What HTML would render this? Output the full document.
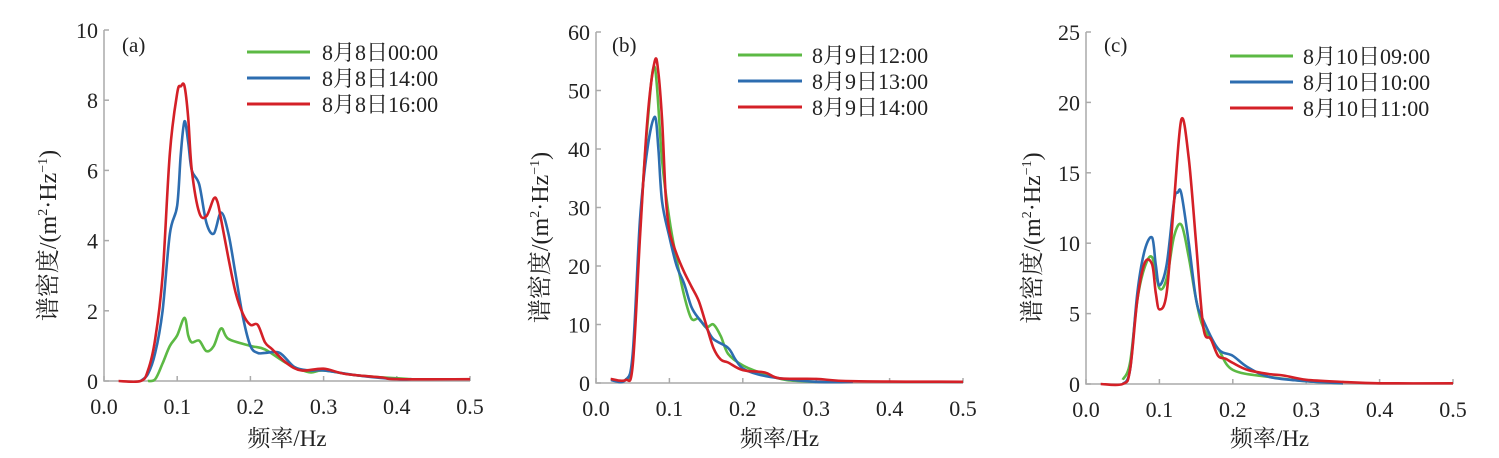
<!DOCTYPE html>
<html><head><meta charset="utf-8"><style>
body{margin:0;background:#fff;width:1499px;height:458px;overflow:hidden}
svg{display:block}
text{font-family:"Liberation Serif","Noto Serif CJK SC",serif;fill:#222}
</style></head><body>
<svg id="s" width="1499" height="458" xmlns="http://www.w3.org/2000/svg"></svg>
<script>
const S=document.getElementById('s');let h='';
const G='#5cb944',B='#2d6db0',R='#d42027';
const panels=[
{x0:104,x1:470,y0:381,yT:30,max:10,step:2,lab:'(a)',lx:122,leg:[247,310,322,52],
 names:['8月8日00:00','8月8日14:00','8月8日16:00'],yl:48,
 d:[[[0.06,0],[0.07,0.05],[0.08,0.5],[0.09,1],[0.1,1.3],[0.11,1.8],[0.115,1.3],[0.12,1.1],[0.13,1.15],[0.14,0.85],[0.15,1],[0.16,1.5],[0.17,1.2],[0.2,1],[0.22,0.9],[0.25,0.5],[0.28,0.25],[0.3,0.3],[0.35,0.15],[0.42,0.05]],
 [[0.05,0],[0.06,0.2],[0.07,0.8],[0.08,2],[0.09,4.2],[0.1,5],[0.105,6.5],[0.11,7.4],[0.115,6.8],[0.12,6],[0.13,5.6],[0.14,4.5],[0.15,4.2],[0.16,4.8],[0.17,4.2],[0.18,3],[0.19,1.8],[0.2,1],[0.21,0.8],[0.22,0.8],[0.24,0.8],[0.26,0.4],[0.28,0.3],[0.3,0.3],[0.35,0.15],[0.4,0.05],[0.42,0.05]],
 [[0.02,0],[0.05,0],[0.06,0.3],[0.07,1.2],[0.08,3],[0.09,6.5],[0.1,8.2],[0.105,8.4],[0.11,8.4],[0.115,7.5],[0.12,6],[0.13,4.8],[0.14,4.7],[0.15,5.2],[0.155,5.1],[0.16,4.6],[0.17,3.5],[0.18,2.5],[0.19,1.9],[0.2,1.6],[0.21,1.6],[0.22,1.1],[0.23,0.9],[0.25,0.5],[0.27,0.3],[0.3,0.35],[0.33,0.2],[0.38,0.1],[0.4,0.05],[0.5,0.05]]]},
{x0:596,x1:963,y0:383,yT:32,max:60,step:10,lab:'(b)',lx:612,leg:[738,802,812,55],
 names:['8月9日12:00','8月9日13:00','8月9日14:00'],yl:540,
 d:[[[0.04,0.5],[0.05,4],[0.06,26],[0.07,44],[0.08,54],[0.09,38],[0.1,28],[0.11,21],[0.12,15],[0.13,11],[0.14,11],[0.15,9.5],[0.16,10],[0.17,8],[0.18,5],[0.2,3],[0.23,1.5],[0.26,0.5],[0.3,0.2]],
 [[0.02,0.5],[0.04,0.5],[0.05,5],[0.06,28],[0.07,40],[0.08,45.5],[0.085,40],[0.09,31],[0.1,25],[0.11,20],[0.12,17],[0.13,13],[0.14,11],[0.15,9.5],[0.16,7.5],[0.18,6],[0.19,4],[0.2,2.5],[0.22,1.5],[0.25,0.8],[0.3,0.2],[0.35,0.2]],
 [[0.02,0.7],[0.04,0.5],[0.05,3],[0.06,25],[0.07,45],[0.08,55],[0.085,53],[0.09,45],[0.095,32],[0.1,26],[0.11,22],[0.12,19],[0.13,16.5],[0.14,14],[0.15,10],[0.16,6],[0.17,4],[0.18,3.5],[0.2,2.2],[0.23,1.8],[0.25,0.8],[0.3,0.7],[0.35,0.3],[0.5,0.2]]]},
{x0:1086,x1:1453,y0:384,yT:32,max:25,step:5,lab:'(c)',lx:1104,leg:[1230,1293,1303,56],
 names:['8月10日09:00','8月10日10:00','8月10日11:00'],yl:1032,
 d:[[[0.05,0.3],[0.06,1.5],[0.07,6],[0.08,8.3],[0.09,9],[0.1,6.8],[0.11,7.5],[0.12,10.5],[0.13,11.3],[0.14,9],[0.15,6],[0.16,4],[0.18,2.5],[0.2,1],[0.25,0.5],[0.3,0.2],[0.35,0.05]],
 [[0.05,0],[0.06,1],[0.07,6.5],[0.08,9.5],[0.09,10.4],[0.095,8.5],[0.1,7],[0.11,8.5],[0.12,13],[0.125,13.6],[0.13,13.5],[0.14,10],[0.15,6],[0.16,4.5],[0.18,2.5],[0.2,2],[0.22,1.2],[0.25,0.5],[0.3,0.2],[0.35,0.05]],
 [[0.02,0],[0.05,0],[0.06,1],[0.07,6],[0.08,8.6],[0.09,8.5],[0.095,6.5],[0.1,5.3],[0.11,6.5],[0.12,13],[0.13,18.8],[0.14,16],[0.15,10],[0.16,4],[0.17,3.2],[0.18,2],[0.19,1.8],[0.2,1.5],[0.22,1.0],[0.25,0.7],[0.27,0.6],[0.3,0.3],[0.35,0.15],[0.4,0.05],[0.5,0.05]]]}
];
const cols=[G,B,R];
function smooth(P){let d=`M${P[0][0].toFixed(1)},${P[0][1].toFixed(1)}`;
 for(let i=0;i<P.length-1;i++){const p0=P[Math.max(i-1,0)],p1=P[i],p2=P[i+1],p3=P[Math.min(i+2,P.length-1)];
  const c1=[p1[0]+(p2[0]-p0[0])/6,p1[1]+(p2[1]-p0[1])/6],c2=[p2[0]-(p3[0]-p1[0])/6,p2[1]-(p3[1]-p1[1])/6];
  d+=`C${c1[0].toFixed(1)},${c1[1].toFixed(1)} ${c2[0].toFixed(1)},${c2[1].toFixed(1)} ${p2[0].toFixed(1)},${p2[1].toFixed(1)}`;}
 return d;}
for(const p of panels){
 const X=f=>p.x0+(p.x1-p.x0)*f/0.5, Y=v=>p.y0-(p.y0-p.yT)*v/p.max;
 h+=`<path d="M${p.x0},${p.yT}V${p.y0}H${p.x1}" fill="none" stroke="#aaa" stroke-width="1.5"/>`;
 for(let v=0;v<=p.max;v+=p.step){h+=`<line x1="${p.x0}" x2="${p.x0+5}" y1="${Y(v)}" y2="${Y(v)}" stroke="#aaa" stroke-width="1.5"/><text x="${p.x0-6}" y="${Y(v)+8}" font-size="22" text-anchor="end">${v}</text>`;}
 for(let i=0;i<=5;i++){const x=X(i/10);h+=`<line x1="${x}" x2="${x}" y1="${p.y0}" y2="${p.y0-5}" stroke="#aaa" stroke-width="1.5"/><text x="${x}" y="${p.y0+33}" font-size="22" text-anchor="middle">${(i/10).toFixed(1)}</text>`;}
 p.d.forEach((s,i)=>{h+=`<path fill="none" stroke="${cols[i]}" stroke-width="2.6" stroke-linejoin="round" d="${smooth(s.map(q=>[X(q[0]),Y(q[1])]))}"/>`;});
 const [a,b,t,y]=p.leg;
 p.names.forEach((n,i)=>{const yy=y+i*26;h+=`<line x1="${a}" x2="${b}" y1="${yy}" y2="${yy}" stroke="${cols[i]}" stroke-width="3"/><text x="${t}" y="${yy+8}" font-size="22">${n}</text>`;});
 h+=`<text x="${p.lx}" y="52" font-size="21">${p.lab}</text>`;
 h+=`<text x="${(p.x0+p.x1)/2}" y="446" font-size="23" text-anchor="middle">频率/Hz</text>`;
 h+=`<text transform="translate(${p.yl+8},${(p.y0+p.yT)/2+30}) rotate(-90)" font-size="24" text-anchor="middle">谱密度/(m<tspan font-size="14" dy="-9">2</tspan><tspan dy="9">·Hz</tspan><tspan font-size="14" dy="-9">−1</tspan><tspan dy="9">)</tspan></text>`;
}
S.innerHTML=h;
</script>
</body></html>
